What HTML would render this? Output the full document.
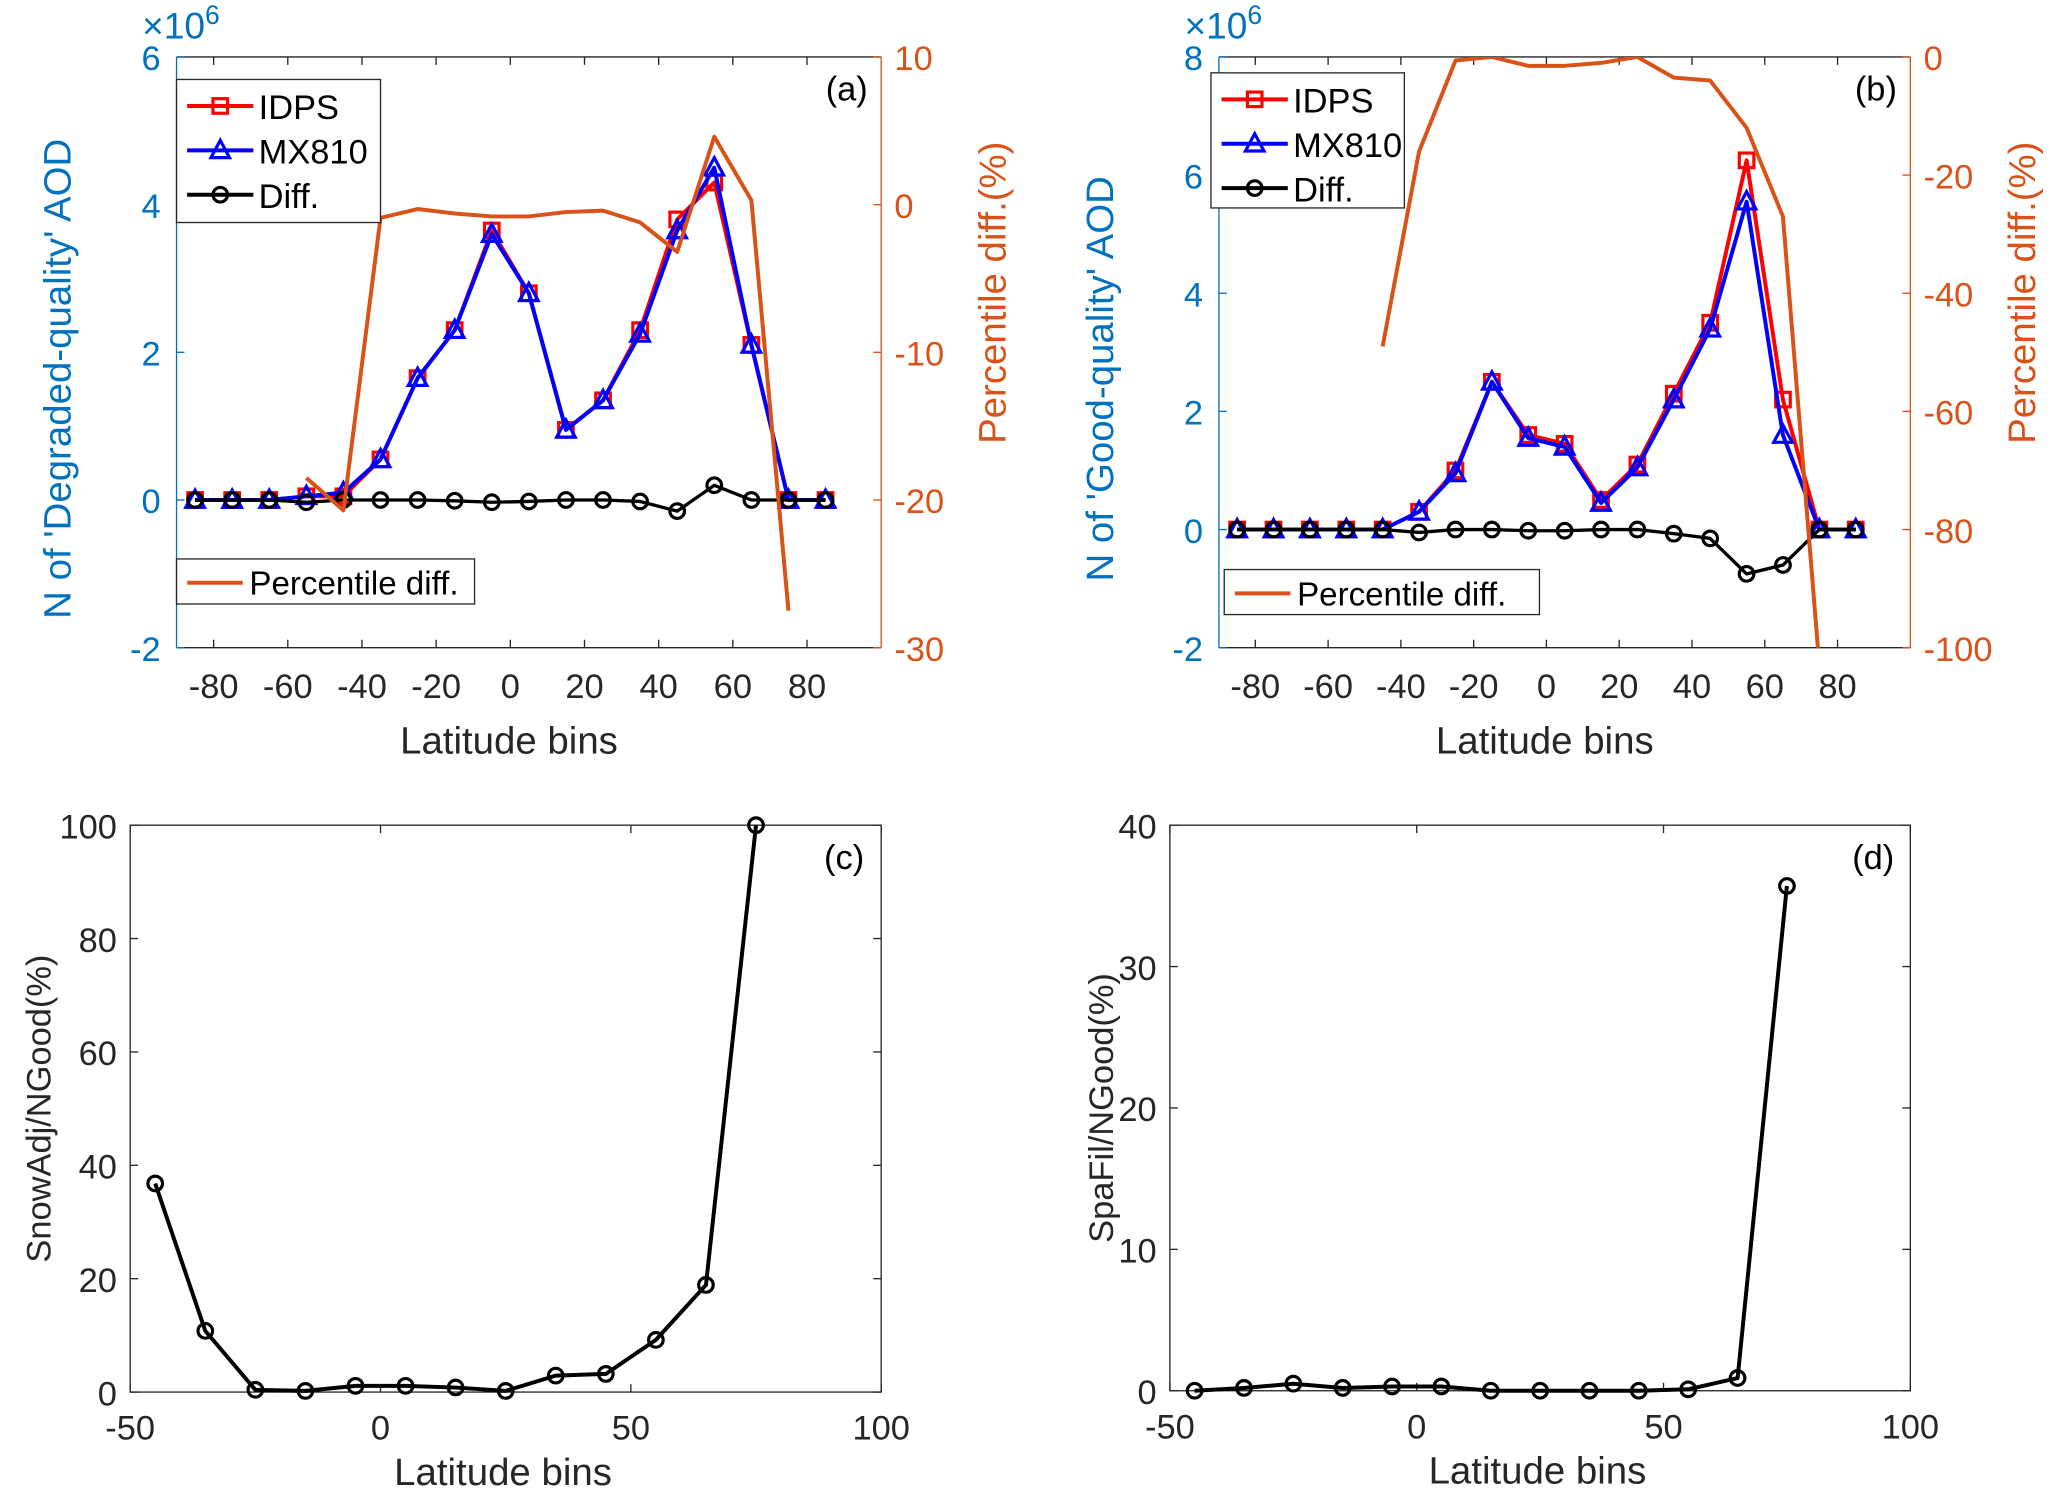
<!DOCTYPE html>
<html><head><meta charset="utf-8"><style>
html,body{margin:0;padding:0;background:#fff;}
svg{display:block;font-family:"Liberation Sans",Arial,sans-serif;}
</style></head><body>
<svg id="fig" width="2067" height="1502" viewBox="0 0 1560 1134" xmlns="http://www.w3.org/2000/svg"></svg>
<script>
// ---- data ----
const latA = [-85,-75,-65,-55,-45,-35,-25,-15,-5,5,15,25,35,45,55,65,75,85];
const idpsA = [0,0,0,0.05,0.05,0.55,1.65,2.3,3.65,2.8,0.95,1.35,2.3,3.8,4.3,2.1,0,0];
const mxA = [0,0,0,0.05,0.1,0.55,1.65,2.3,3.6,2.8,0.95,1.35,2.25,3.65,4.5,2.1,0,0];
const diffA = [0,0,0,-0.03,0,0,0,-0.01,-0.03,-0.02,0,0,-0.02,-0.15,0.2,0,0,0];
const pLatA = [-55,-45,-35,-25,-15,-5,5,15,25,35,45,55,65,75];
const pctA = [-18.5,-20.7,-0.9,-0.3,-0.6,-0.8,-0.8,-0.5,-0.4,-1.2,-3.2,4.6,0.3,-27.5];

const idpsB = [0,0,0,0,0,0.3,1.0,2.5,1.6,1.45,0.5,1.1,2.3,3.5,6.25,2.2,0,0];
const mxB = [0,0,0,0,0,0.3,0.95,2.5,1.55,1.4,0.45,1.05,2.2,3.4,5.55,1.6,0,0];
const diffB = [0,0,0,0,0,-0.05,0,0,-0.02,-0.02,0,0,-0.07,-0.15,-0.75,-0.6,0,0];
const pLatB = [-45,-35,-25,-15,-5,5,15,25,35,45,55,65,75];
const pctB = [-49,-16,-0.6,0,-1.5,-1.5,-1,0,-3.5,-4,-12,-27,-103];

const latCD = [-45,-35,-25,-15,-5,5,15,25,35,45,55,65,75];
const snowC = [36.8,10.8,0.4,0.2,1.1,1.1,0.8,0.2,2.9,3.2,9.2,18.9,100];
const spaD = [0,0.2,0.5,0.2,0.3,0.3,0,0,0,0,0.1,0.9,35.7];

const xTicksAB = [-80,-60,-40,-20,0,20,40,60,80];
const xTicksCD = [-50,0,50,100];

const NS = "http://www.w3.org/2000/svg";
const svg = document.getElementById('fig');
const BLUE = "#0072BD", ORANGE = "#D95319", GRAY = "#262626";
const TICK = 26, TITLE = 29;
function el(tag, attrs, parent, text){
  const e = document.createElementNS(NS, tag);
  for (const k in attrs) e.setAttribute(k, attrs[k]);
  if (text !== undefined) e.textContent = text;
  (parent || svg).appendChild(e);
  return e;
}
function scale(d0,d1,r0,r1){ return v => r0 + (v-d0)/(d1-d0)*(r1-r0); }
function poly(xs, ys, sx, sy, color, w, g, clip){
  const pts = xs.map((x,i)=> sx(x).toFixed(1)+","+sy(ys[i]).toFixed(1)).join(" ");
  const a = {points:pts, fill:"none", stroke:color, "stroke-width":w, "stroke-linejoin":"round"};
  if (clip) a["clip-path"] = clip;
  return el("polyline", a, g);
}
function markers(xs, ys, sx, sy, type, color, g, name){
  xs.forEach((x,i)=>{
    const cx = sx(x), cy = sy(ys[i]);
    let m;
    if (type==="o") m = el("circle",{cx,cy,r:5.5,fill:"none",stroke:color,"stroke-width":2.4},g);
    else if (type==="s") m = el("rect",{x:cx-5.5,y:cy-5.5,width:11,height:11,fill:"none",stroke:color,"stroke-width":2.4},g);
    else m = el("polygon",{points:`${cx},${cy-7.5} ${cx-7},${cy+5.5} ${cx+7},${cy+5.5}`,fill:"none",stroke:color,"stroke-width":2.4},g);
    
    
  });
}
function box(g,x0,y0,x1,y1,col){
  el("rect",{x:x0,y:y0,width:x1-x0,height:y1-y0,fill:"none",stroke:col||GRAY,"stroke-width":1},g);
}
function text(g,x,y,s,size,color,anchor,name,rot){
  const a = {x,y,"font-size":size,fill:color||"#262626","text-anchor":anchor||"middle"};
  if (rot) a.transform = `rotate(-90 ${x} ${y})`;
  const t = el("text",a,g,s);
  
  
  return t;
}

// ---- panels a & b ----
function panelAB(cfg){
  const g = el("g",{});
  
  
  const {x0,x1,y0,y1} = cfg;
  const sx = scale(-90,100,x0,x1);
  const sy = scale(cfg.lmin,cfg.lmax,y1,y0);
  const sr = scale(cfg.rmin,cfg.rmax,y1,y0);
  const cid = cfg.name+"-clip";
  const cp = el("clipPath",{id:cid},g); el("rect",{x:x0,y:y0,width:x1-x0,height:y1-y0},cp);
  el("line",{x1:x0,y1:y0,x2:x0,y2:y1,stroke:BLUE,"stroke-width":1},g);
  el("line",{x1:x1,y1:y0,x2:x1,y2:y1,stroke:ORANGE,"stroke-width":1},g);
  el("line",{x1:x0,y1:y1,x2:x1,y2:y1,stroke:GRAY,"stroke-width":1},g);
  el("line",{x1:x0,y1:y0,x2:x1,y2:y0,stroke:GRAY,"stroke-width":1},g);
  xTicksAB.forEach(t=>{
    const x = sx(t);
    el("line",{x1:x,y1:y1,x2:x,y2:y1-6,stroke:GRAY},g);
    el("line",{x1:x,y1:y0,x2:x,y2:y0+6,stroke:GRAY},g);
    text(g,x,y1+38,String(t),TICK,GRAY,"middle","x-tick-label");
  });
  cfg.lticks.forEach(t=>{
    const y = sy(t);
    el("line",{x1:x0,y1:y,x2:x0+6,y2:y,stroke:BLUE},g);
    text(g,x0-12,y+10,String(t),TICK,BLUE,"end","left-y-tick-label");
  });
  cfg.rticks.forEach(t=>{
    const y = sr(t);
    el("line",{x1:x1,y1:y,x2:x1-6,y2:y,stroke:ORANGE},g);
    text(g,x1+10,y+10,String(t),TICK,ORANGE,"start","right-y-tick-label");
  });
  const ex = text(g,x0-26,y0-14,"×10",28,BLUE,"start","exponent-label");
  el("tspan",{dy:-11,"font-size":20},ex,"6");
  text(g,(x0+x1)/2-15,y1+80,"Latitude bins",TITLE,GRAY,"middle","x-axis-title");
  text(g,x0-80,(y0+y1)/2+20,cfg.ylabel,TITLE,BLUE,"middle","left-y-axis-title",true);
  text(g,x1+94,(y0+y1)/2-45,"Percentile diff.(%)",TITLE,ORANGE,"middle","right-y-axis-title",true);
  text(g,x1-26,y0+33,cfg.tag,26,"#000","middle","panel-label");
  poly(latA,cfg.idps,sx,sy,"#FF0000",3,g,`url(#${cid})`);
  markers(latA,cfg.idps,sx,sy,"s","#FF0000",g,"idps-marker");
  poly(latA,cfg.mx,sx,sy,"#0000FF",3,g,`url(#${cid})`);
  markers(latA,cfg.mx,sx,sy,"t","#0000FF",g,"mx810-marker");
  poly(latA,cfg.diff,sx,sy,"#000",2.5,g,`url(#${cid})`);
  markers(latA,cfg.diff,sx,sy,"o","#000",g,"diff-marker");
  poly(cfg.plat,cfg.pct,sx,sr,ORANGE,3,g,`url(#${cid})`);
  const L = cfg.leg;
  const lg = el("g",{},g);
  
  
  el("rect",{x:L.x,y:L.y,width:L.w,height:L.h,fill:"#fff",stroke:GRAY},lg);
  const items = [["IDPS","#FF0000","s"],["MX810","#0000FF","t"],["Diff.","#000","o"]];
  items.forEach((it,i)=>{
    const y = L.y+20+i*33.5;
    el("line",{x1:L.x+8,y1:y,x2:L.x+58,y2:y,stroke:it[1],"stroke-width":3},lg);
    markers([0],[0],()=>L.x+33,()=>y,it[2],it[1],lg,"legend-marker");
    text(lg,L.x+62,y+10,it[0],26,"#000","start","legend-entry");
  });
  const P = cfg.leg2;
  const pg = el("g",{},g);
  
  
  el("rect",{x:P.x,y:P.y,width:P.w,height:34,fill:"#fff",stroke:GRAY},pg);
  el("line",{x1:P.x+8,y1:P.y+18,x2:P.x+50,y2:P.y+18,stroke:ORANGE,"stroke-width":3},pg);
  text(pg,P.x+55,P.y+27,"Percentile diff.",25,"#000","start","legend-entry");
}
panelAB({name:"panel-a",x0:133,x1:665,y0:43,y1:489,lmin:-2,lmax:6,rmin:-30,rmax:10,
  lticks:[-2,0,2,4,6],rticks:[-30,-20,-10,0,10],ylabel:"N of 'Degraded-quality' AOD",tag:"(a)",
  idps:idpsA,mx:mxA,diff:diffA,plat:pLatA,pct:pctA,
  leg:{x:133,y:60,w:154,h:108},leg2:{x:133,y:422,w:225}});
panelAB({name:"panel-b",x0:920,x1:1442,y0:43,y1:489,lmin:-2,lmax:8,rmin:-100,rmax:0,
  lticks:[-2,0,2,4,6,8],rticks:[-100,-80,-60,-40,-20,0],ylabel:"N of 'Good-quality' AOD",tag:"(b)",
  idps:idpsB,mx:mxB,diff:diffB,plat:pLatB,pct:pctB,
  leg:{x:914,y:55,w:146,h:102},leg2:{x:924,y:430,w:238}});

// ---- panels c & d ----
function panelCD(cfg){
  const g = el("g",{});
  
  
  const {x0,x1,y0,y1} = cfg;
  const sx = scale(-50,100,x0,x1);
  const sy = scale(0,cfg.ymax,y1,y0);
  box(g,x0,y0,x1,y1);
  xTicksCD.forEach(t=>{
    const x = sx(t);
    el("line",{x1:x,y1:y1,x2:x,y2:y1-6,stroke:GRAY},g);
    el("line",{x1:x,y1:y0,x2:x,y2:y0+6,stroke:GRAY},g);
    text(g,x,y1+36,String(t),TICK,GRAY,"middle","x-tick-label");
  });
  cfg.yticks.forEach(t=>{
    const y = sy(t);
    el("line",{x1:x0,y1:y,x2:x0+6,y2:y,stroke:GRAY},g);
    el("line",{x1:x1,y1:y,x2:x1-6,y2:y,stroke:GRAY},g);
    text(g,x0-10,y+10,String(t),TICK,GRAY,"end","y-tick-label");
  });
  text(g,(x0+x1)/2-2,y1+70,"Latitude bins",TITLE,GRAY,"middle","x-axis-title");
  text(g,cfg.ylx,(y0+y1)/2,cfg.ylabel,26,GRAY,"middle","y-axis-title",true);
  text(g,x1-28,y0+33,cfg.tag,26,"#000","middle","panel-label");
  poly(latCD,cfg.vals,sx,sy,"#000",3,g);
  markers(latCD,cfg.vals,sx,sy,"o","#000",g,"ratio-marker");
}
panelCD({name:"panel-c",x0:98,x1:665,y0:623,y1:1051,ymax:100,yticks:[0,20,40,60,80,100],
  ylabel:"SnowAdj/NGood(%)",tag:"(c)",vals:snowC,ylx:38});
panelCD({name:"panel-d",x0:883,x1:1442,y0:623,y1:1050,ymax:40,yticks:[0,10,20,30,40],
  ylabel:"SpaFil/NGood(%)",tag:"(d)",vals:spaD,ylx:840});
</script>
</body></html>
